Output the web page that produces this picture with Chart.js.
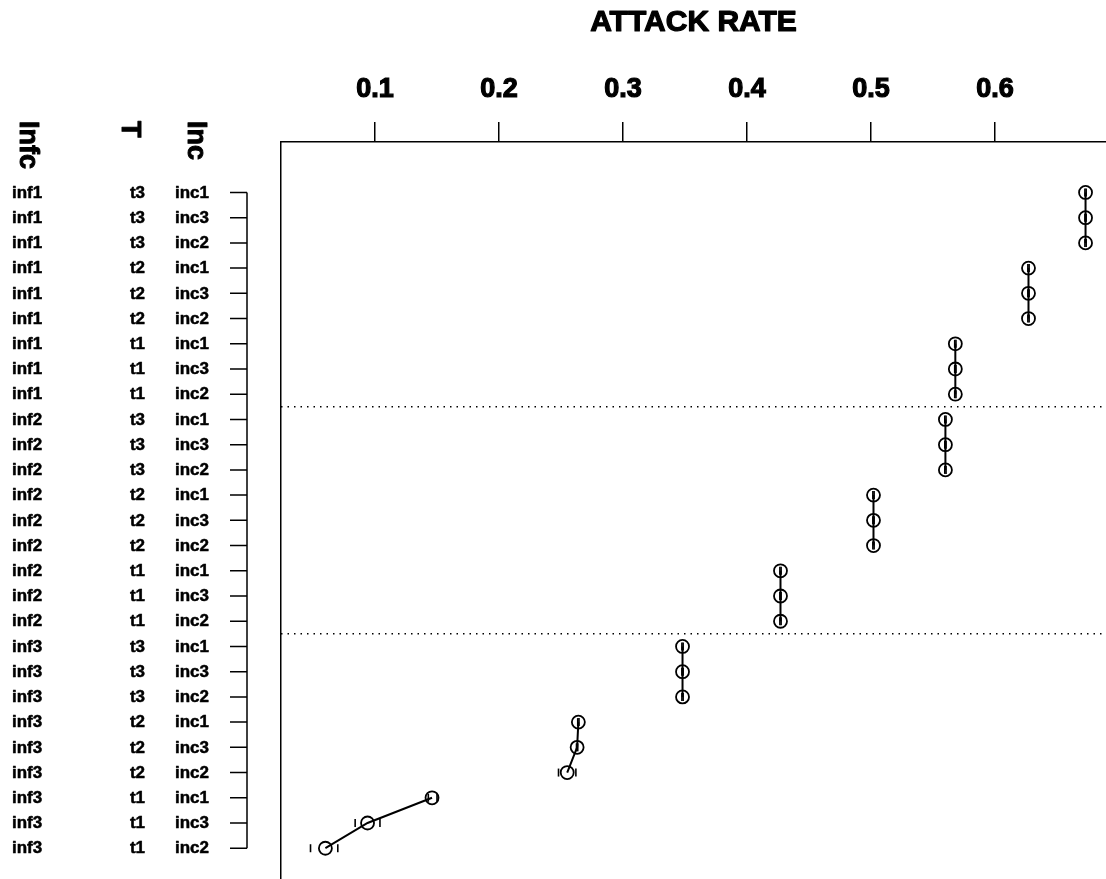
<!DOCTYPE html>
<html><head><meta charset="utf-8">
<script src="https://cdn.jsdelivr.net/npm/chart.js@4/dist/chart.umd.min.js"></script>
<style>html,body{margin:0;padding:0;background:#fff;}#wrap{width:1106px;height:879px;position:relative;}</style>
</head><body><div id="wrap"><canvas id="c" width="1106" height="879"></canvas></div>
<script>
const infcLabels = ['inf1','inf1','inf1','inf1','inf1','inf1','inf1','inf1','inf1',
                    'inf2','inf2','inf2','inf2','inf2','inf2','inf2','inf2','inf2',
                    'inf3','inf3','inf3','inf3','inf3','inf3','inf3','inf3','inf3'];
const tLabels = ['t3','t3','t3','t2','t2','t2','t1','t1','t1',
                 't3','t3','t3','t2','t2','t2','t1','t1','t1',
                 't3','t3','t3','t2','t2','t2','t1','t1','t1'];
const incLabels = ['inc1','inc3','inc2','inc1','inc3','inc2','inc1','inc3','inc2',
                   'inc1','inc3','inc2','inc1','inc3','inc2','inc1','inc3','inc2',
                   'inc1','inc3','inc2','inc1','inc3','inc2','inc1','inc3','inc2'];
const attackRate = [0.673,0.673,0.673, 0.627,0.627,0.627, 0.568,0.568,0.568,
                    0.560,0.560,0.560, 0.502,0.502,0.502, 0.427,0.427,0.427,
                    0.348,0.348,0.348, 0.264,0.263,0.255, 0.146,0.094,0.060];
const lowerCI = [0.6725,0.6725,0.6725, 0.6265,0.6265,0.6265, 0.5675,0.5675,0.5675,
                 0.5595,0.5595,0.5595, 0.5015,0.5015,0.5015, 0.4265,0.4265,0.4265,
                 0.3475,0.3475,0.3475, 0.2635,0.2625,0.248, 0.143,0.084,0.048];
const upperCI = [0.6735,0.6735,0.6735, 0.6275,0.6275,0.6275, 0.5685,0.5685,0.5685,
                 0.5605,0.5605,0.5605, 0.5025,0.5025,0.5025, 0.4275,0.4275,0.4275,
                 0.3485,0.3485,0.3485, 0.2645,0.2635,0.262, 0.150,0.104,0.070];
const xTicks = [0.1,0.2,0.3,0.4,0.5,0.6];
const headers = ['Infc','T','Inc'];
const xTitle = 'ATTACK RATE';

const FONT = '"Liberation Sans", Arial, Helvetica, sans-serif';
const X_MIN = 0.0242, X_MAX = 0.6895;

const groups = [];
attackRate.forEach((v,i)=>{
  const key = infcLabels[i]+'|'+tLabels[i];
  let g = groups.length ? groups[groups.length-1] : null;
  if(!g || g.key!==key){ g={key,pts:[]}; groups.push(g); }
  g.pts.push({x:v,y:i});
});
const datasets = groups.map(g=>({
  data:g.pts, showLine:true, borderColor:'#000', borderWidth:2,
  pointStyle:'circle', pointRadius:6.5, pointBorderWidth:1.8,
  pointBorderColor:'#000', pointBackgroundColor:'rgba(0,0,0,0)', backgroundColor:'rgba(0,0,0,0)'
}));
const ciPts = [];
attackRate.forEach((v,i)=>{ ciPts.push({x:lowerCI[i],y:i}); ciPts.push({x:upperCI[i],y:i}); });
datasets.push({data:ciPts, showLine:false, pointStyle:'line', rotation:90, pointRadius:4,
  pointBorderWidth:1.6, pointBorderColor:'#000', borderColor:'#000'});
for(let i=1;i<infcLabels.length;i++){
  if(infcLabels[i]!==infcLabels[i-1]){
    datasets.push({data:[{x:X_MIN,y:i-0.5},{x:X_MAX,y:i-0.5}], showLine:true, pointRadius:0,
      borderColor:'#000', borderWidth:1.5, borderDash:[1.5,5]});
  }
}

function heavyText(ctx, txt, x, y, w){
  ctx.fillText(txt,x,y);
  ctx.lineWidth = w; ctx.lineJoin='round';
  ctx.strokeText(txt,x,y);
}

const labelPlugin = {
  id:'rowLabels',
  afterDraw(chart){
    const ctx = chart.ctx, ys = chart.scales.y, ca = chart.chartArea;
    ctx.save();
    ctx.fillStyle = '#000'; ctx.strokeStyle = '#000';
    ctx.font = 'bold 17px '+FONT;
    ctx.textBaseline = 'middle';
    infcLabels.forEach((lab,i)=>{
      const py = ys.getPixelForValue(i)+0.5;
      ctx.textAlign='left'; heavyText(ctx,lab,12,py,0.5);
      ctx.textAlign='right'; heavyText(ctx,tLabels[i],145,py,0.5);
      ctx.textAlign='left'; heavyText(ctx,incLabels[i],175,py,0.5);
    });
    ctx.lineWidth=1.5;
    ctx.beginPath();
    ctx.moveTo(247, ys.getPixelForValue(0)); ctx.lineTo(247, ys.getPixelForValue(infcLabels.length-1));
    infcLabels.forEach((lab,i)=>{ const py=ys.getPixelForValue(i); ctx.moveTo(230,py); ctx.lineTo(247,py); });
    ctx.stroke();
    ctx.font = 'bold 27px '+FONT;
    const cx = [27,129,195];
    headers.forEach((h,k)=>{
      ctx.save(); ctx.translate(cx[k],121); ctx.rotate(Math.PI/2);
      ctx.textAlign='left'; ctx.textBaseline='middle'; heavyText(ctx,h,0,0,1); ctx.restore();
    });
    ctx.font = 'bold 30px '+FONT;
    ctx.textAlign='center'; ctx.textBaseline='middle';
    heavyText(ctx, xTitle, (ca.left+ca.right)/2, 23, 1.2);
    ctx.restore();
  }
};

new Chart(document.getElementById('c'),{
  type:'scatter',
  data:{datasets},
  options:{
    responsive:false, animation:false,
    layout:{autoPadding:false, padding:{left:281,right:0,top:0,bottom:0}},
    plugins:{legend:{display:false},tooltip:{enabled:false},title:{display:false}},
    scales:{
      x:{type:'linear',position:'top',min:X_MIN,max:X_MAX,
        afterBuildTicks(s){ s.ticks = xTicks.map(v=>({value:v})); },
        afterFit(s){ s.height = 142; },
        ticks:{color:'#000',font:{family:FONT,size:27,weight:'bold'},padding:16,maxRotation:0,autoSkip:false,
          textStrokeColor:'#000',textStrokeWidth:1.2,
          callback:(v)=>String(v)},
        grid:{display:true,drawOnChartArea:false,drawTicks:true,tickLength:20,color:'#000',lineWidth:1.5},
        border:{display:true,color:'#000',width:1.5},
        title:{display:false}
      },
      y:{type:'linear',reverse:true,min:-2.0,max:27.22,
        ticks:{display:false},
        grid:{display:false,drawOnChartArea:false,drawTicks:false},
        border:{display:true,color:'#000',width:1.5}
      }
    }
  },
  plugins:[labelPlugin]
});
</script></body></html>
